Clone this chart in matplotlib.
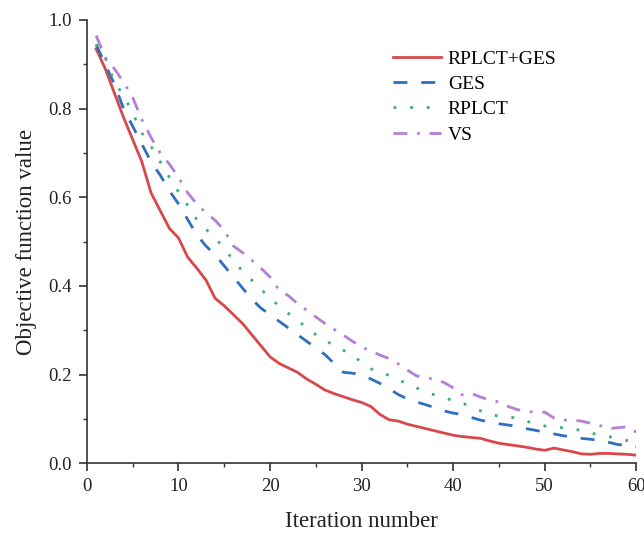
import matplotlib
matplotlib.use("Agg")
import matplotlib.pyplot as plt
from matplotlib.ticker import MultipleLocator

plt.rcParams["font.family"] = ["Liberation Serif", "DejaVu Serif"]

iterations = list(range(1, 61))

rplct_ges = [0.935, 0.89, 0.835, 0.78, 0.73, 0.68, 0.61, 0.57, 0.53, 0.508,
             0.465, 0.44, 0.413, 0.372, 0.355, 0.335, 0.315, 0.29, 0.265, 0.24,
             0.225, 0.215, 0.205, 0.19, 0.178, 0.165, 0.157, 0.15, 0.143, 0.137,
             0.128, 0.11, 0.098, 0.095, 0.088, 0.083, 0.078, 0.073, 0.068, 0.063,
             0.06, 0.058, 0.056, 0.05, 0.045, 0.042, 0.039, 0.036, 0.032, 0.029,
             0.034, 0.03, 0.026, 0.021, 0.02, 0.022, 0.022, 0.021, 0.02, 0.018]

ges = [0.945, 0.90, 0.855, 0.80, 0.76, 0.72, 0.68, 0.65, 0.615, 0.585,
       0.55, 0.515, 0.49, 0.47, 0.445, 0.42, 0.395, 0.37, 0.35, 0.335,
       0.32, 0.305, 0.29, 0.275, 0.26, 0.245, 0.225, 0.205, 0.203, 0.2,
       0.19, 0.18, 0.168, 0.155, 0.145, 0.138, 0.132, 0.125, 0.118, 0.113,
       0.11, 0.103, 0.097, 0.093, 0.089, 0.086, 0.083, 0.078, 0.074, 0.07,
       0.066, 0.062, 0.059, 0.056, 0.054, 0.051, 0.047, 0.042, 0.04, 0.038]

rplct = [0.945, 0.915, 0.86, 0.83, 0.79, 0.745, 0.715, 0.68, 0.645, 0.612,
         0.582, 0.55, 0.528, 0.508, 0.485, 0.457, 0.433, 0.413, 0.393, 0.372,
         0.355, 0.338, 0.322, 0.306, 0.29, 0.277, 0.266, 0.255, 0.243, 0.228,
         0.213, 0.206, 0.198, 0.187, 0.18, 0.17, 0.16, 0.154, 0.148, 0.141,
         0.135, 0.128, 0.118, 0.11, 0.106, 0.104, 0.102, 0.095, 0.088, 0.084,
         0.082, 0.08, 0.079, 0.073, 0.068, 0.064, 0.06, 0.056, 0.051, 0.047]

vs = [0.965, 0.915, 0.89, 0.86, 0.825, 0.775, 0.735, 0.70, 0.675, 0.645,
      0.61, 0.585, 0.565, 0.548, 0.525, 0.49, 0.475, 0.458, 0.44, 0.42,
      0.39, 0.378, 0.36, 0.345, 0.33, 0.315, 0.302, 0.289, 0.275, 0.262,
      0.253, 0.244, 0.236, 0.224, 0.21, 0.197, 0.193, 0.189, 0.182, 0.17,
      0.154, 0.157, 0.149, 0.143, 0.138, 0.128, 0.121, 0.117, 0.115, 0.115,
      0.102, 0.097, 0.097, 0.095, 0.09, 0.085, 0.078, 0.08, 0.082, 0.07]

RED = "#d9474a"
BLUE = "#2f6fbf"
GREEN = "#3fae74"
PURPLE = "#b57fd8"
AXIS = "#333333"
TEXT = "#222222"

fig = plt.figure(figsize=(6.44, 5.33), dpi=100)
ax = fig.add_axes([0.135, 0.131, 0.853, 0.8315])

ax.plot(iterations, rplct_ges, color=RED, lw=2, label="RPLCT+GES")
ax.plot(iterations, ges, color=BLUE, lw=2, linestyle=(0, (5, 5)), label="GES")
ax.plot(iterations, rplct, color=GREEN, lw=2, linestyle=(0, (1, 5)), label="RPLCT")
ax.plot(iterations, vs, color=PURPLE, lw=2, linestyle=(0, (5, 3.5, 1, 3.5)), label="VS")

ax.set_xlim(0, 60)
ax.set_ylim(0, 1.0)
ax.xaxis.set_major_locator(MultipleLocator(10))
ax.xaxis.set_minor_locator(MultipleLocator(5))
ax.yaxis.set_major_locator(MultipleLocator(0.2))
ax.yaxis.set_minor_locator(MultipleLocator(0.1))
ax.yaxis.set_major_formatter(lambda v, _: f"{v:.1f}")

for s in ("top", "right"):
    ax.spines[s].set_visible(False)
for s in ("left", "bottom"):
    ax.spines[s].set_color(AXIS)
    ax.spines[s].set_linewidth(1.2)
ax.tick_params(which="major", direction="out", length=6, width=1.2, colors=AXIS,
               labelsize=13.5, labelcolor=TEXT, pad=5)
ax.tick_params(which="minor", direction="out", length=3, width=1.0, colors=AXIS)

ax.set_xlabel("Iteration number", fontsize=16.5, color=TEXT, labelpad=11)
ax.set_ylabel("Objective function value", fontsize=16.5, color=TEXT, labelpad=8)

ax.legend(loc="upper left", bbox_to_anchor=(0.526, 0.972), frameon=False,
          fontsize=14, handlelength=2.45, handletextpad=0.35, labelspacing=0.4)

fig.savefig("out.png", dpi=100)
